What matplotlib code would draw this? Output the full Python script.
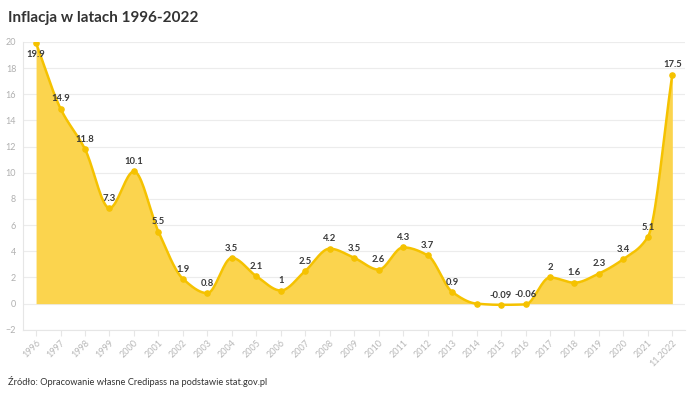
import numpy as np
import matplotlib.pyplot as plt

years = ["1996", "1997", "1998", "1999", "2000", "2001", "2002", "2003", "2004",
         "2005", "2006", "2007", "2008", "2009", "2010", "2011", "2012", "2013",
         "2014", "2015", "2016", "2017", "2018", "2019", "2020", "2021", "11.2022"]
inflation = [19.9, 14.9, 11.8, 7.3, 10.1, 5.5, 1.9, 0.8, 3.5, 2.1, 1.0, 2.5, 4.2,
             3.5, 2.6, 4.3, 3.7, 0.9, 0.0, -0.09, -0.06, 2.0, 1.6, 2.3, 3.4, 5.1, 17.5]
labels = ["19.9", "14.9", "11.8", "7.3", "10.1", "5.5", "1.9", "0.8", "3.5", "2.1",
          "1", "2.5", "4.2", "3.5", "2.6", "4.3", "3.7", "0.9", "", "-0.09", "-0.06",
          "2", "1.6", "2.3", "3.4", "5.1", "17.5"]

plt.rcParams['font.family'] = ['Lato', 'DejaVu Sans']


def monotone(x, y, n=20):
    # Fritsch-Carlson monotone cubic, just for drawing the smooth line
    x = np.asarray(x, float)
    y = np.asarray(y, float)
    h = np.diff(x)
    d = np.diff(y) / h
    m = np.zeros_like(y)
    m[0], m[-1] = d[0], d[-1]
    for i in range(1, len(y) - 1):
        if d[i - 1] * d[i] <= 0:
            m[i] = 0
        else:
            m[i] = 3 * (h[i - 1] + h[i]) / ((2 * h[i] + h[i - 1]) / d[i - 1] + (h[i] + 2 * h[i - 1]) / d[i])
    xs, ys = [], []
    for i in range(len(x) - 1):
        t = np.linspace(0, 1, n, endpoint=False)
        h00 = 2 * t**3 - 3 * t**2 + 1
        h10 = t**3 - 2 * t**2 + t
        h01 = -2 * t**3 + 3 * t**2
        h11 = t**3 - t**2
        xs.append(x[i] + t * h[i])
        ys.append(h00 * y[i] + h10 * h[i] * m[i] + h01 * y[i + 1] + h11 * h[i] * m[i + 1])
    xs.append([x[-1]])
    ys.append([y[-1]])
    return np.concatenate(xs), np.concatenate(ys)


x = np.arange(len(years))
sx, sy = monotone(x, inflation)

fig = plt.figure(figsize=(7, 3.95), dpi=100)
ax = fig.add_axes([0.033, 0.165, 0.946, 0.729])

ax.fill_between(sx, sy, 0, color="#fbd44e", lw=0, zorder=2)
ax.plot(sx, sy, color="#f5c200", lw=1.8, zorder=3)
ax.scatter(x, inflation, s=14, color="#f5c200", zorder=4)

for i, (v, lab) in enumerate(zip(inflation, labels)):
    if not lab:
        continue
    dy = -8 if i == 0 else 7
    ax.annotate(lab, (i, v), xytext=(0, dy), textcoords="offset points",
                ha="center", va="center", fontsize=6.8, fontweight="bold",
                color="#3a3a3a", zorder=5)

ax.set_xlim(-0.53, len(years) - 0.47)
ax.set_ylim(-2, 20)
ax.set_yticks(range(-2, 21, 2))
ax.set_xticks(x)
ax.set_xticklabels(years, rotation=45, ha="right", rotation_mode="anchor")
ax.grid(axis="y", color="#ececec", lw=0.8, zorder=0)
ax.set_axisbelow(True)
for s in ["top", "right"]:
    ax.spines[s].set_visible(False)
ax.spines["left"].set_color("#e6e6e6")
ax.spines["bottom"].set_color("#e6e6e6")
ax.tick_params(axis="y", length=0, labelsize=6.5, labelcolor="#b0b0b0", pad=5)
ax.tick_params(axis="x", length=4, color="#e6e6e6", labelsize=6.5, labelcolor="#b8b8b8", pad=2)

fig.text(0.011, 0.955, "Inflacja w latach 1996-2022", fontsize=11, fontweight="bold",
         color="#333333", va="center", ha="left")
fig.text(0.011, 0.035, "Źródło: Opracowanie własne Credipass na podstawie stat.gov.pl",
         fontsize=6.7, color="#333333", va="center", ha="left")

fig.savefig("out.png", dpi=100)
